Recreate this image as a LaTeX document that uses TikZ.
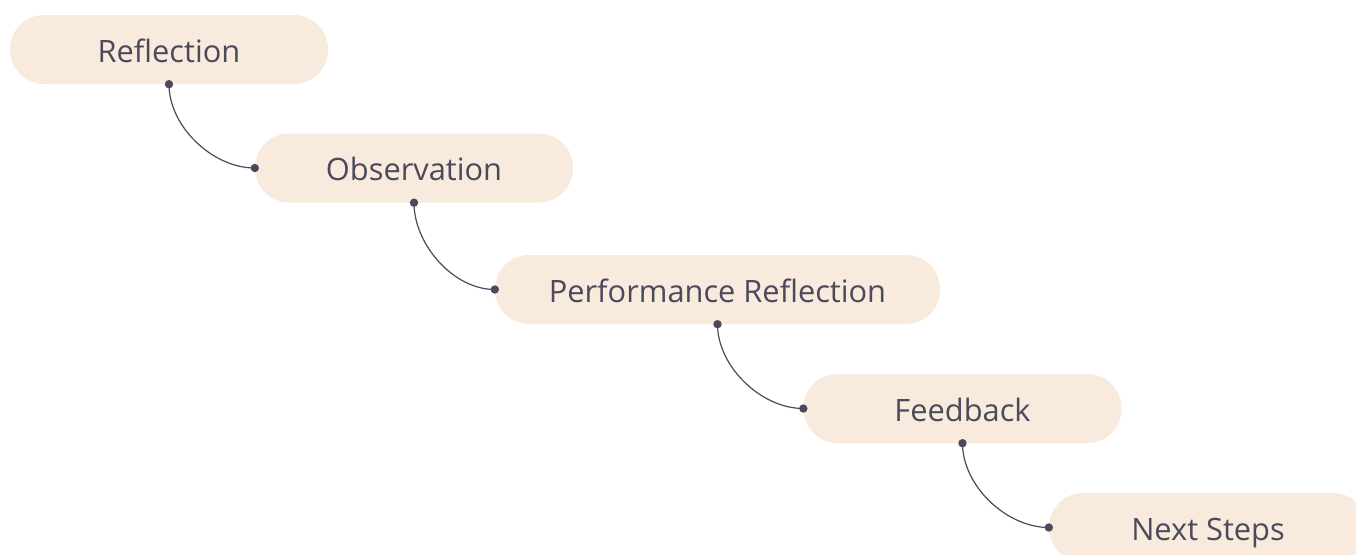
\documentclass[tikz,border=0pt]{standalone}
\usepackage{fontspec}
\setmainfont{Open Sans}
\definecolor{pillfill}{HTML}{F8EADC}
\definecolor{ink}{HTML}{4A4A5C}
\begin{document}
\begin{tikzpicture}[x=1pt,y=-1pt,
  pill/.style={fill=pillfill, draw=none, rounded corners=34pt,
    minimum height=69pt, minimum width=318pt, inner sep=0pt,
    text height=25pt, text depth=0pt,
    text=ink, font=\fontsize{30.8}{34}\selectfont},
  link/.style={draw=ink, line width=1.2pt},
  dot/.style={fill=ink}]
\useasboundingbox (0,0) rectangle (1356,554);
\clip (0,0) rectangle (1356,554);
\node[pill] (a) at (169,49.5) {Reflection};
\node[pill] (b) at (414,168) {Observation};
\node[pill, minimum width=445pt] (c) at (717.5,289.5) {Performance Reflection};
\node[pill] (d) at (962.5,408.5) {Feedback};
\node[pill] (e) at (1208,527.5) {Next Steps};
\foreach \u/\v in {a/b, b/c, c/d, d/e}{
  \draw[link] (\u.south) to[out=-90, in=180, looseness=0.9] (\v.west);
  \fill[dot] (\u.south) circle (4.2pt);
  \fill[dot] (\v.west) circle (4.2pt);
}
\end{tikzpicture}
\end{document}
